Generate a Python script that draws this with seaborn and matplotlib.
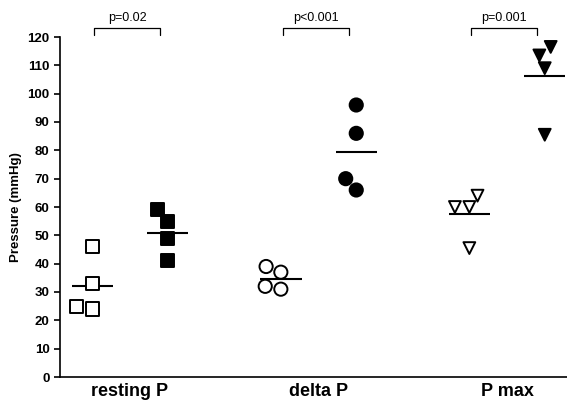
import seaborn as sns
import matplotlib.pyplot as plt
import pandas as pd

# values (mmHg)
measures = ["resting P", "delta P", "P max"]
states = ["before", "after"]
resting_before = [46, 33, 24, 25]
resting_after = [55, 49, 41, 59]
delta_before = [39, 37, 31, 32]
delta_after = [96, 86, 70, 66]
pmax_before = [60, 60, 64, 45.5]
pmax_after = [113.5, 116.5, 109, 85.5]
p_labels = ["p=0.02", "p<0.001", "p=0.001"]

groups = {
    ("resting P", "before"): resting_before,
    ("resting P", "after"): resting_after,
    ("delta P", "before"): delta_before,
    ("delta P", "after"): delta_after,
    ("P max", "before"): pmax_before,
    ("P max", "after"): pmax_after,
}
rows = [(m, s, v) for (m, s), vals in groups.items() for v in vals]
df = pd.DataFrame(rows, columns=["measure", "state", "value"])

sns.set_style("ticks")
plt.rcParams["font.family"] = ["Liberation Sans", "DejaVu Sans"]
plt.rcParams.update({"text.color": "black", "axes.labelcolor": "black",
                     "xtick.color": "black", "ytick.color": "black",
                     "axes.edgecolor": "black"})

fig = plt.figure(figsize=(5.67, 4), dpi=100)
ax = fig.add_axes([0.106, 0.0575, 0.894, 0.85])

markers = {"resting P": "s", "delta P": "o", "P max": "v"}
sizes = {"resting P": 9.5, "delta P": 9.5, "P max": 8.5}
palette = {"before": "white", "after": "black"}
for m in measures:
    for s in states:
        sub = df[(df.measure == m) & (df.state == s)]
        sns.swarmplot(data=sub, x="measure", y="value", hue="state",
                      order=measures, hue_order=states, dodge=True,
                      palette=palette, marker=markers[m], size=sizes[m],
                      edgecolor="black", linewidth=1.4, legend=False, ax=ax)

# mean lines
means = df.groupby(["measure", "state"])["value"].mean()
for i, m in enumerate(measures):
    for j, s in enumerate(states):
        xc = i + (-0.2 if j == 0 else 0.2)
        ax.hlines(means[(m, s)], xc - 0.11, xc + 0.11, color="black", lw=1.5)

# significance brackets
for i, lab in enumerate(p_labels):
    x0, x1 = i - 0.19, i + 0.16
    ax.plot([x0, x0, x1, x1], [120.8, 123.3, 123.3, 120.8], color="black",
            lw=0.9, clip_on=False)
    ax.text((x0 + x1) / 2, 124.5, lab, ha="center", va="bottom", fontsize=9)

ax.set_ylim(0, 120)
ax.set_xlim(-0.371, 2.318)
ax.set_yticks(range(0, 121, 10))
ax.tick_params(axis="y", labelsize=9.5, length=4, width=1.2)
ax.tick_params(axis="x", length=0, labelsize=13, pad=4)
for t in ax.get_yticklabels() + ax.get_xticklabels():
    t.set_fontweight("bold")
ax.set_xlabel("")
ax.set_ylabel("Pressure (mmHg)", fontsize=9.5, fontweight="bold", labelpad=4)
ax.spines["left"].set_linewidth(1.2)
ax.spines["bottom"].set_linewidth(1.2)
sns.despine(ax=ax)

plt.savefig("out.png", dpi=100)
plt.close()
